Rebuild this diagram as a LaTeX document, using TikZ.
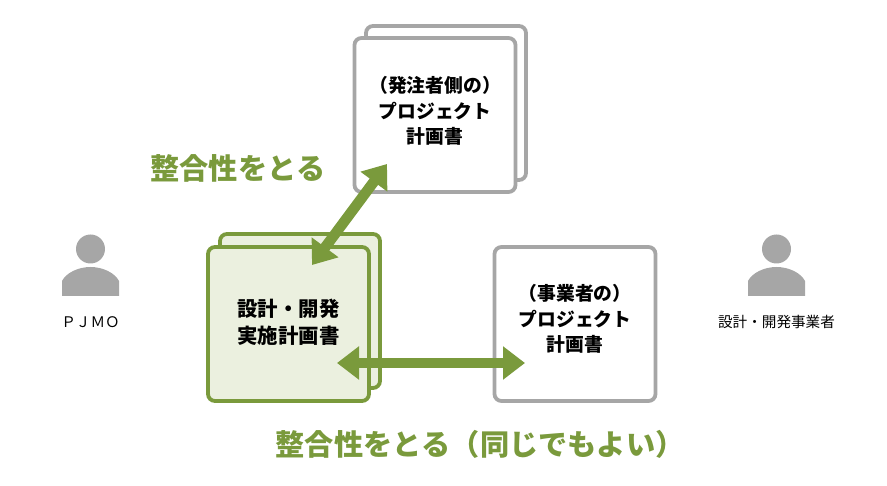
\documentclass[tikz,border=0pt]{standalone}
\usepackage{fontspec}
\setmainfont{Noto Sans CJK JP}
\usetikzlibrary{arrows.meta}
\definecolor{framegrey}{HTML}{A6A6A6}
\definecolor{leafgreen}{HTML}{7A9A3C}
\definecolor{paleleaf}{HTML}{EBF0DF}
\tikzset{
  docbox/.style={shape=rectangle,draw=framegrey,line width=3.8pt,rounded corners=7pt,fill=white,minimum width=160pt,minimum height=154pt},
  greenbox/.style={docbox,draw=leafgreen,fill=paleleaf},
  boxtext/.style={align=center,font=\fontsize{18.8pt}{25.5pt}\selectfont\bfseries},
  bigboxtext/.style={align=center,font=\fontsize{20.4pt}{27pt}\selectfont\bfseries},
  headline/.style={text=leafgreen,font=\fontsize{29.2pt}{34pt}\selectfont\bfseries},
  rolename/.style={font=\fontsize{14.6pt}{18pt}\selectfont},
  personhead/.style={shape=circle,fill=framegrey,minimum size=29pt,inner sep=0pt},
  bothway/.style={{Triangle[length=22pt,width=32pt]}-{Triangle[length=22pt,width=32pt]},draw=leafgreen,line width=10.5pt}
}
\begin{document}
\begin{tikzpicture}[x=1pt,y=-1pt]
\useasboundingbox (0,0) rectangle (887,486);
% documents
\node(planback) at (446,103)[docbox] {};
\node(plan) at (435,115)[docbox,minimum width=161pt] {};
\node(plantext) at (435,111)[boxtext] {（発注者側の）\\プロジェクト\\計画書};
\node(designback) at (300,311)[greenbox] {};
\node(design) at (288.5,324)[greenbox,minimum width=161pt] {};
\node(designtext) at (288.5,322)[bigboxtext] {設計・開発\\実施計画書};
\node(vendor) at (575,324)[docbox,minimum width=161pt] {};
\node(vendortext) at (575,319)[boxtext] {（事業者の）\\プロジェクト\\計画書};
% people
\node(pjmohead) at (90.5,249)[personhead] {};
\fill[framegrey] (62,296) -- (62,281) .. controls (66,273) and (78,267) .. (90.5,267) .. controls (103,267) and (115,273) .. (119,281) -- (119,296) -- cycle;
\node(pjmo) at (90.5,322)[rolename] {ＰＪＭＯ};
\node(vendorhead) at (776.5,249)[personhead] {};
\fill[framegrey] (748,296) -- (748,281) .. controls (752,273) and (764,267) .. (776.5,267) .. controls (789,267) and (801,273) .. (805,281) -- (805,296) -- cycle;
\node(vendorname) at (776.5,322)[rolename] {設計・開発事業者};
% connectors
\coordinate(diaglow) at (312,265);
\coordinate(diagup) at (387,164);
\coordinate(horleft) at (337,363);
\coordinate(horright) at (525,363);
\draw[bothway] (diaglow) -- (diagup);
\draw[bothway] (horleft) -- (horright);
% labels
\node(upperlabel) at (238,168)[headline] {整合性をとる};
\node(lowerlabel) at (480,444)[headline] {整合性をとる（同じでもよい）};
\end{tikzpicture}
\end{document}
